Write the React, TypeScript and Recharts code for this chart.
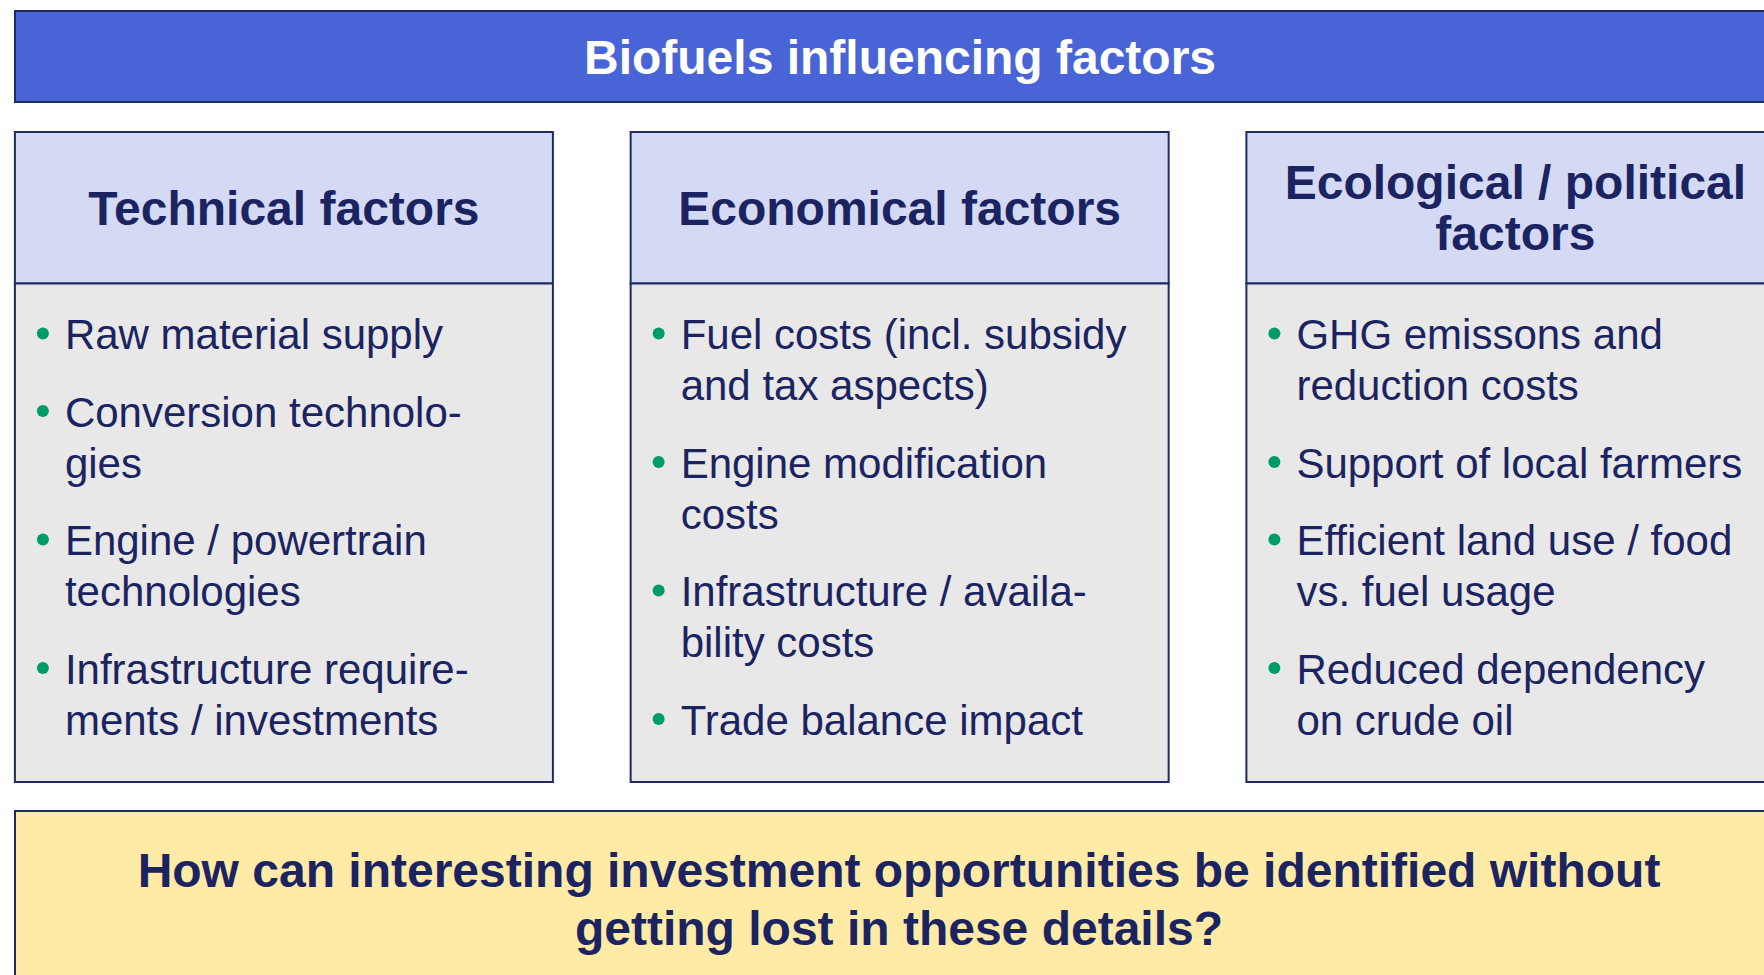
import { Bar, BarChart, Customized, XAxis, YAxis } from "recharts"

const columnTitles = [["Technical factors"], ["Economical factors"], ["Ecological / political", "factors"]]

const technicalItems = [
  ["Raw material supply"],
  ["Conversion technolo-", "gies"],
  ["Engine / powertrain", "technologies"],
  ["Infrastructure require-", "ments / investments"],
]

const economicalItems = [
  ["Fuel costs (incl. subsidy", "and tax aspects)"],
  ["Engine modification", "costs"],
  ["Infrastructure / availa-", "bility costs"],
  ["Trade balance impact"],
]

const ecologicalItems = [
  ["GHG emissons and", "reduction costs"],
  ["Support of local farmers"],
  ["Efficient land use / food", "vs. fuel usage"],
  ["Reduced dependency", "on crude oil"],
]

const columnWeights = [1, 1, 1]

const mainTitle = "Biofuels influencing factors"
const questionLines = [
  "How can interesting investment opportunities be identified without",
  "getting lost in these details?",
]

const itemLists = [technicalItems, economicalItems, ecologicalItems]

const data = columnTitles.map((t, i) => ({
  name: t.join(" "),
  title: t,
  items: itemLists[i],
  value: columnWeights[i],
}))

const FONT = "'Liberation Sans', Arial, Helvetica, sans-serif"
const NAVY = "#1b2460"
const BORDER = "#1f2a63"

function FactorColumn(props: any) {
  const { x, y, width, height } = props
  const p = props.payload ?? props
  const headH = 151.5
  const cx = x + width / 2
  const mid = y + headH / 2
  const n = p.title.length
  let base = y + headH + 65.5
  const rows: any[] = []
  p.items.forEach((lines: string[], k: number) => {
    rows.push(<circle key={"d" + k} cx={x + 28} cy={base - 15.5} r={6} fill="#009b6a" />)
    lines.forEach((ln, j) => {
      rows.push(
        <text key={k + "-" + j} x={x + 50} y={base} fontSize={42} fill={NAVY} fontFamily={FONT}>
          {ln}
        </text>
      )
      if (j < lines.length - 1) base += 51
    })
    base += 77.5
  })
  return (
    <g>
      <rect x={x} y={y} width={width} height={headH} fill="#d4daf4" stroke={BORDER} strokeWidth={2} />
      <rect x={x} y={y + headH} width={width} height={height - headH} fill="#e8e8e8" stroke={BORDER} strokeWidth={2} />
      {p.title.map((t: string, i: number) => (
        <text
          key={t}
          x={cx}
          y={mid + 17 + (i - (n - 1) / 2) * 51}
          textAnchor="middle"
          fontSize={48}
          fontWeight="bold"
          fill={NAVY}
          fontFamily={FONT}
        >
          {t}
        </text>
      ))}
      {rows}
    </g>
  )
}

function Frame() {
  return (
    <g>
      <rect x={15} y={11} width={1790} height={91} fill="#4864d6" stroke={BORDER} strokeWidth={2} />
      <text x={900} y={74} textAnchor="middle" fontSize={48} fontWeight="bold" fill="#ffffff" fontFamily={FONT}>
        {mainTitle}
      </text>
      <rect x={15} y={811} width={1790} height={200} fill="#ffeba6" stroke={BORDER} strokeWidth={2} />
      {questionLines.map((q, i) => (
        <text
          key={q}
          x={899}
          y={887 + i * 58}
          textAnchor="middle"
          fontSize={48}
          fontWeight="bold"
          fill={NAVY}
          fontFamily={FONT}
        >
          {q}
        </text>
      ))}
    </g>
  )
}

export default function App() {
  return (
    <div style={{ position: "absolute", left: 0, top: 0, width: 1764, height: 975, background: "#fff" }}>
      <BarChart
        width={1764}
        height={975}
        data={data}
        margin={{ top: 132, right: -59.15, left: -24.1, bottom: 193 }}
        barSize={538}
      >
        <XAxis dataKey="name" hide />
        <YAxis domain={[0, 1]} hide />
        <Customized component={<Frame />} />
        <Bar dataKey="value" isAnimationActive={false} shape={<FactorColumn />} />
      </BarChart>
    </div>
  )
}
